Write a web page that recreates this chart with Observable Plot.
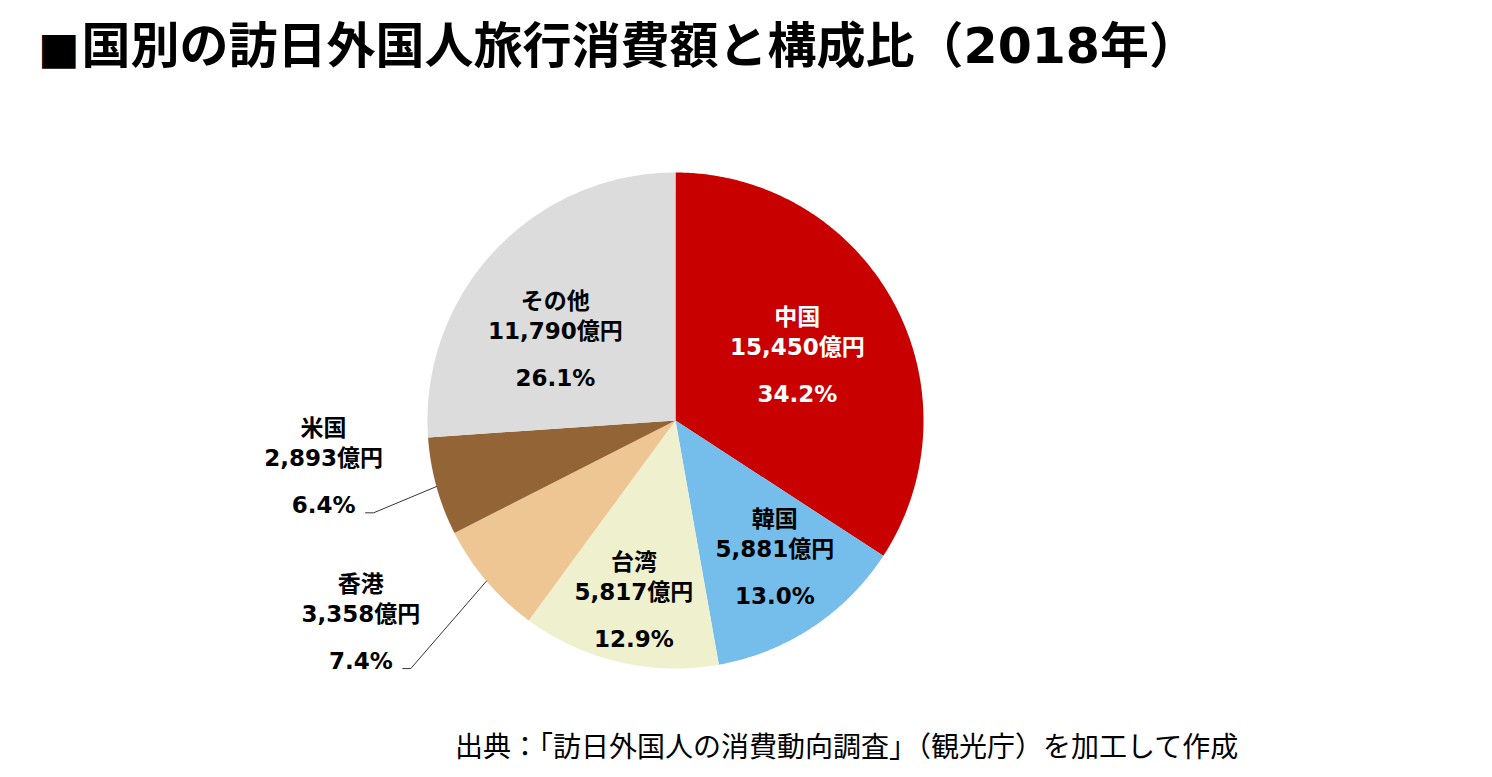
<!DOCTYPE html>
<html>
<head>
<meta charset="utf-8">
<script src="https://cdn.jsdelivr.net/npm/d3@7"></script>
<script src="https://cdn.jsdelivr.net/npm/@observablehq/plot@0.6"></script>
<style>
  html, body { margin: 0; padding: 0; background: #fff; }
  #page { position: relative; width: 1492px; height: 777px; overflow: hidden; font-family: "Noto Sans CJK JP", sans-serif; }
  #title { position: absolute; left: 38px; top: 22px; font-size: 49px; line-height: 49px; font-weight: 700; color: #000; white-space: nowrap; font-family: "DejaVu Sans", "Noto Sans CJK JP", sans-serif; }
  #title .sq { display: inline-block; margin-right: 2px; font-size: 44px; }
  #chart { position: absolute; left: 0; top: 100px; }
  #caption { position: absolute; left: 455px; top: 731px; font-size: 28px; line-height: 28px; font-weight: 400; color: #000; white-space: nowrap; }
</style>
</head>
<body>
<div id="page">
  <div id="title"><span class="sq">■</span>国別の訪日外国人旅行消費額と構成比（2018年）</div>
  <div id="chart"></div>
  <div id="caption">出典：「訪日外国人の消費動向調査」（観光庁）を加工して作成</div>
</div>
<script>
// ---- data ----
const names = ["中国", "韓国", "台湾", "香港", "米国", "その他"];
const values = [15450, 5881, 5817, 3358, 2893, 11790];
const valueLabels = ["15,450億円", "5,881億円", "5,817億円", "3,358億円", "2,893億円", "11,790億円"];
const pctLabels = ["34.2%", "13.0%", "12.9%", "7.4%", "6.4%", "26.1%"];
const colors = ["#C80000", "#75BDEA", "#EFF0CD", "#EEC694", "#936436", "#DBDCDB"];
const textColors = ["#ffffff", "#000000", "#000000", "#000000", "#000000", "#000000"];

// ---- layout (label placement in polar terms, degrees clockwise from 12 o'clock) ----
const R = 248;
const labelPolar = [[62, 138], [144, 169], [193, 185], [237.3, 374], [262.5, 355], [304, 145]];
const outside = [false, false, false, true, true, false];

const total = d3.sum(values);
const rad = a => a * Math.PI / 180;
const polar = (deg, r) => [r * Math.sin(rad(deg)), -r * Math.cos(rad(deg))];

// slice polygons
const slicePts = [];
let cum = 0;
names.forEach((n, i) => {
  const a0 = cum / total * 360;
  cum += values[i];
  const a1 = cum / total * 360;
  slicePts.push({name: n, x: 0, y: 0});
  const steps = Math.max(2, Math.ceil((a1 - a0) / 0.5));
  for (let k = 0; k <= steps; k++) {
    const [x, y] = polar(a0 + (a1 - a0) * k / steps, R);
    slicePts.push({name: n, x, y});
  }
});

// labels
const labels = names.map((n, i) => {
  const [x, y] = polar(labelPolar[i][0], labelPolar[i][1]);
  return {name: n, value: valueLabels[i], pct: pctLabels[i], x, y, color: textColors[i]};
});

// leader lines for outside labels
const leaders = [];
cum = 0;
names.forEach((n, i) => {
  const a0 = cum / total * 360;
  cum += values[i];
  const a1 = cum / total * 360;
  if (!outside[i]) return;
  const mid = (a0 + a1) / 2;
  const [ex, ey] = polar(mid, R);
  const sx = labels[i].x + 42, sy = labels[i].y + 46;
  leaders.push({name: n, x: sx, y: sy});
  leaders.push({name: n, x: sx + 8, y: sy});
  leaders.push({name: n, x: ex, y: ey});
});

const font = "DejaVu Sans, Noto Sans CJK JP, sans-serif";
const chart = Plot.plot({
  width: 1492,
  height: 610,
  margin: 0,
  style: {background: "transparent", fontFamily: font},
  x: {domain: [-675, 817], axis: null},
  y: {domain: [290, -320], axis: null},
  color: {domain: names, range: colors},
  marks: [
    Plot.line(slicePts, {x: "x", y: "y", z: "name", fill: "name", stroke: "none", curve: "linear-closed"}),
    Plot.line(leaders, {x: "x", y: "y", z: "name", stroke: "#000", strokeWidth: 0.8, curve: "linear"}),
    Plot.text(labels, {x: "x", y: "y", text: "name", dy: -38, fill: "color", fontSize: 23, fontWeight: 700, fontFamily: font}),
    Plot.text(labels, {x: "x", y: "y", text: "value", dy: -8, fill: "color", fontSize: 23, fontWeight: 700, fontFamily: font}),
    Plot.text(labels, {x: "x", y: "y", text: "pct", dy: 39, fill: "color", fontSize: 23, fontWeight: 700, fontFamily: font})
  ]
});
document.getElementById("chart").appendChild(chart);
</script>
</body>
</html>
